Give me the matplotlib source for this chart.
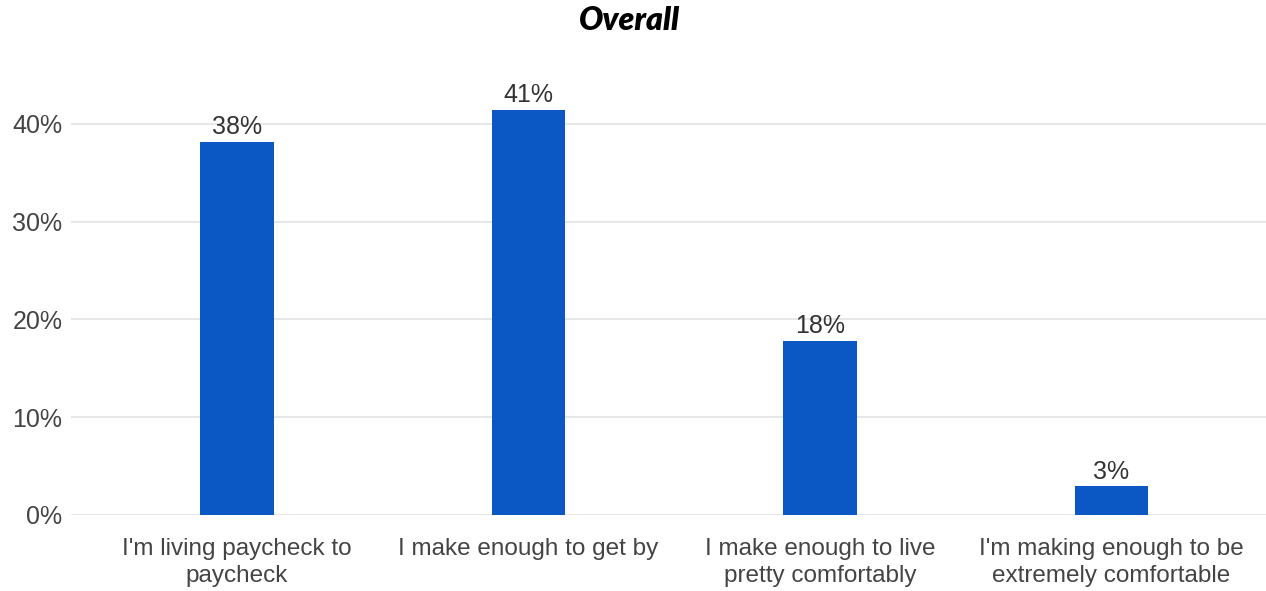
import matplotlib
matplotlib.use("Agg")
from matplotlib import pyplot as plt

# dados do gráfico
categorias = ["I'm living paycheck to\npaycheck",
              "I make enough to get by",
              "I make enough to live\npretty comfortably",
              "I'm making enough to be\nextremely comfortable"]
valores = [38.2, 41.4, 17.8, 2.9]
rotulos = ["38%", "41%", "18%", "3%"]
ticks_y = [0, 10, 20, 30, 40]

fig = plt.figure(figsize=(12.66, 5.91), dpi=100)
ax = fig.add_axes([0.056, 0.129, 0.944, 0.744])

x = list(range(len(categorias)))
barras = ax.bar(x, valores, width=0.253, color="#0B57C4", zorder=3)

for b, r in zip(barras, rotulos):
    ax.annotate(r, (b.get_x() + b.get_width() / 2, b.get_height()),
                xytext=(0, 2), textcoords="offset points",
                ha="center", va="bottom", fontsize=18,
                family="Liberation Sans", color="#333333")

ax.set_xlim(-0.57, 3.53)
ax.set_ylim(0, 45)
ax.set_yticks(ticks_y)
ax.set_yticklabels([f"{t}%" for t in ticks_y], family="Liberation Sans",
                   fontsize=18, color="#444444")
ax.set_xticks(x)
ax.set_xticklabels(categorias, family="Liberation Sans", fontsize=17.5,
                   color="#444444", linespacing=1.3)
ax.tick_params(axis="both", length=0)
ax.tick_params(axis="y", pad=6)
ax.tick_params(axis="x", pad=17)

ax.grid(axis="y", color="#e3e3e3", linewidth=1.2, zorder=0)
for s in ax.spines.values():
    s.set_visible(False)

fig.text(0.497, 0.965, "Overall", ha="center", va="center",
         family="Lato", fontweight="heavy", style="italic", fontsize=23)

plt.savefig("out.png", dpi=100)
